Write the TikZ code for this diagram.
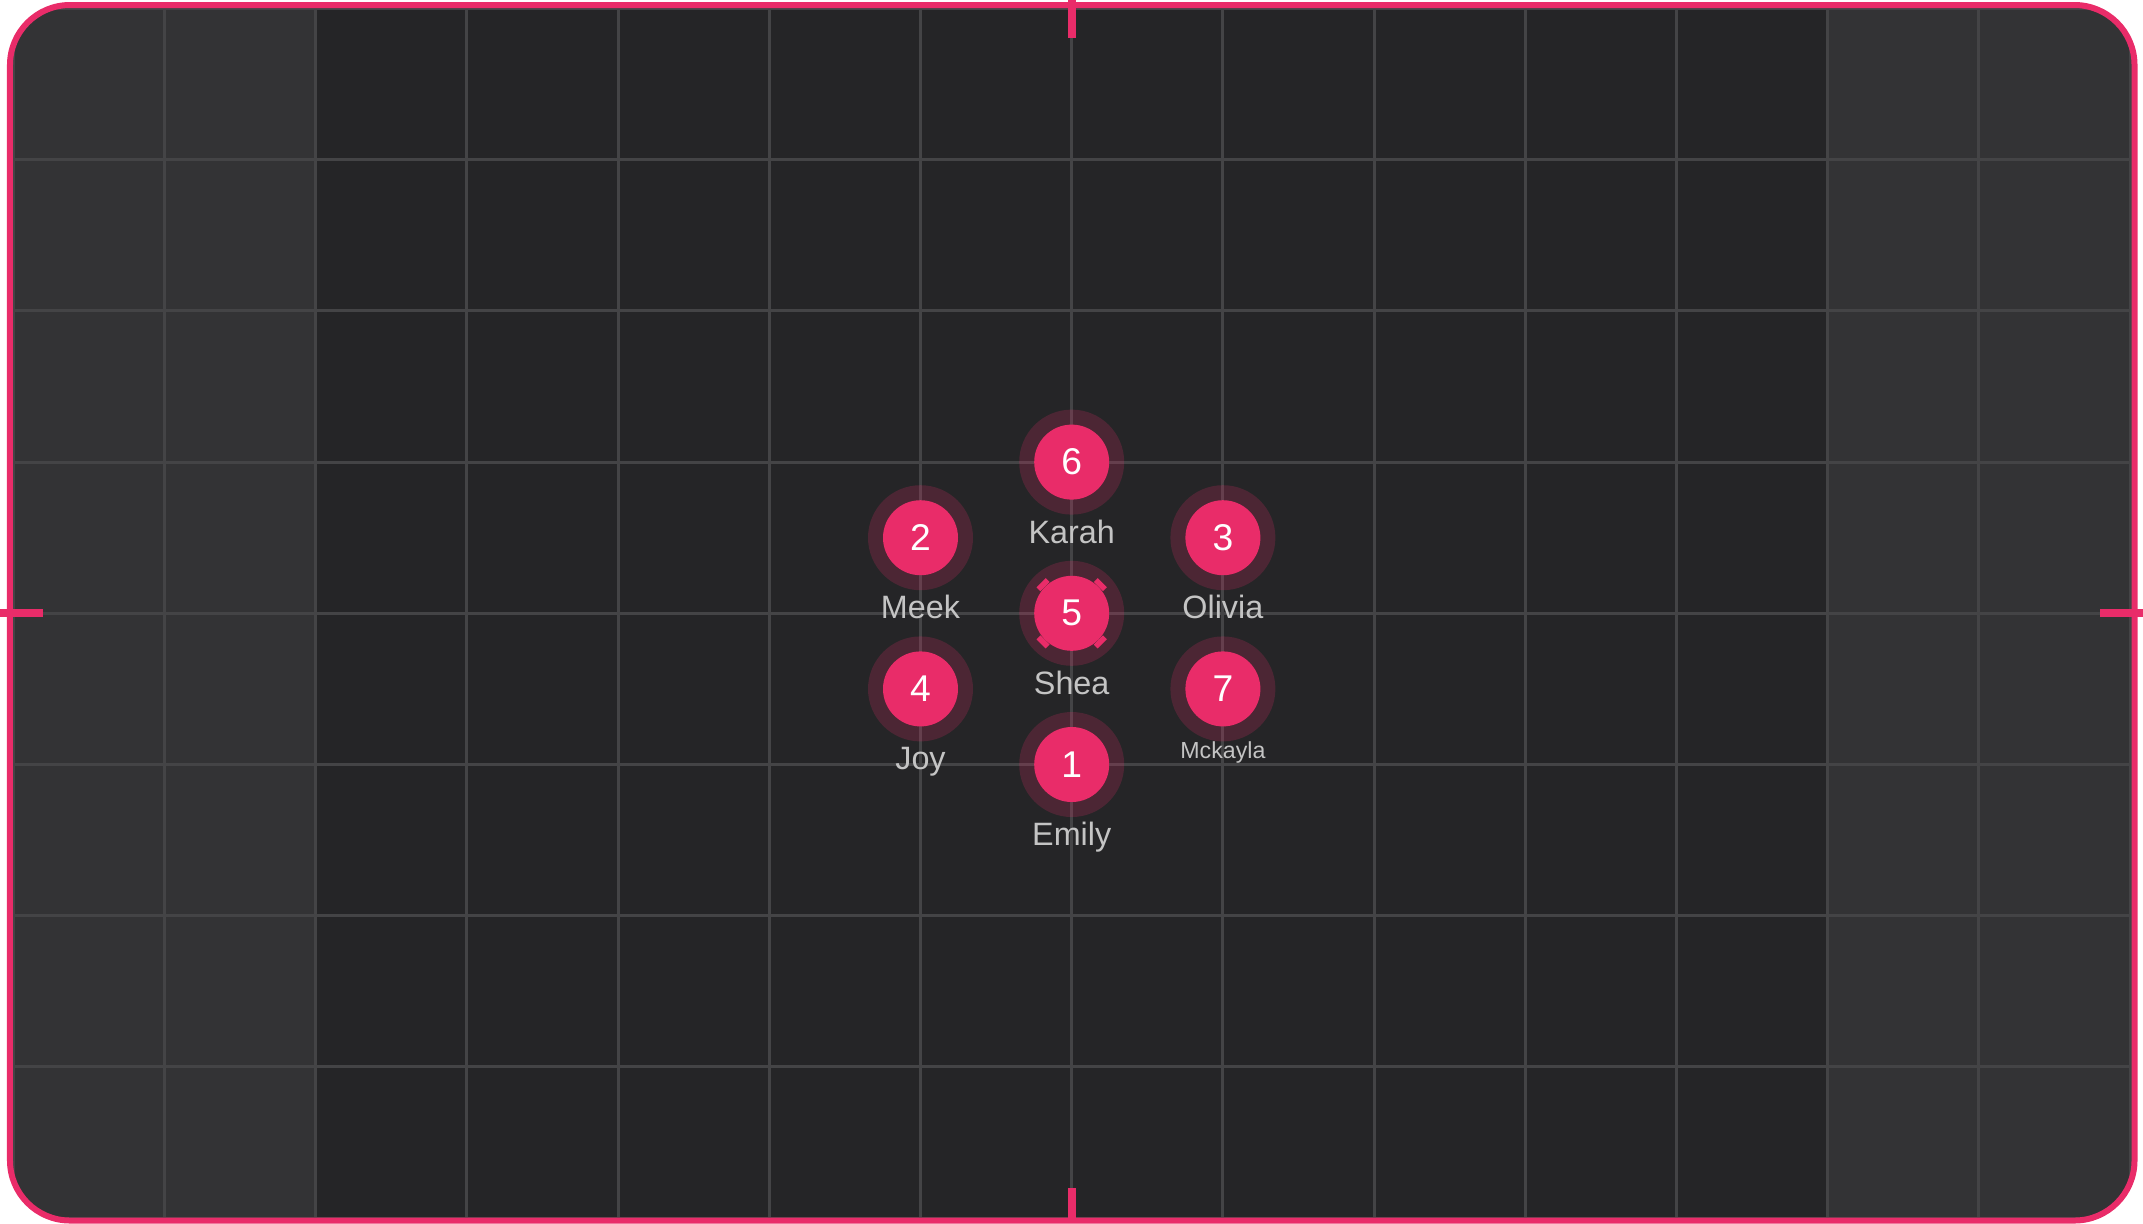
\documentclass[tikz,border=0pt]{standalone}
\usepackage{fontspec}
\setmainfont{Liberation Sans}
\usetikzlibrary{positioning}

\definecolor{accent}{HTML}{E92C69}
\definecolor{boardlight}{HTML}{333335}
\definecolor{boarddark}{HTML}{252527}
\definecolor{gridgray}{HTML}{444446}
\definecolor{namegray}{HTML}{C4C4C4}

\pgfdeclarelayer{board}
\pgfdeclarelayer{halo}
\pgfsetlayers{board,halo,main}

\begin{document}
\begin{tikzpicture}[on grid,node distance=1.512cm,
    dot/.style={circle,fill=accent,text=white,minimum size=0.75cm,inner sep=0pt,font=\fontsize{10.6}{12}\selectfont},
    lbl/.style={text=namegray,inner sep=0pt,anchor=base,font=\fontsize{9.2}{11}\selectfont},
    halo/.style={fill=accent,fill opacity=0.2},
    edgetick/.style={accent,line width=0.08cm},
    gridline/.style={gridgray,line width=0.03cm}]
  % board with grid and frame
  \begin{pgfonlayer}{board}
    \useasboundingbox (-10.717,-6.097) rectangle (10.713,6.133);
    \begin{scope}
      \clip[rounded corners=0.6cm] (-10.617,-6.072) rectangle (10.628,6.083);
      \fill[boardlight] (-10.8,-6.2) rectangle (10.8,6.2);
      \fill[boarddark] (-7.56,-6.2) rectangle (7.56,6.2);
      \draw[gridline,step=1.512cm] (-10.8,-6.2) grid (10.8,6.2);
    \end{scope}
    \draw[accent,line width=0.06cm,rounded corners=0.6cm] (-10.617,-6.072) rectangle (10.628,6.083);
    \draw[edgetick] (-10.717,0) -- (-10.287,0);
    \draw[edgetick] (10.713,0) -- (10.283,0);
    \draw[edgetick] (0,6.133) -- (0,5.753);
    \draw[edgetick] (0,-6.097) -- (0,-5.747);
  \end{pgfonlayer}

  \node[dot] (n5) at (0,0) {5};
  \node[dot,above=of n5] (n6) {6};
  \node[dot,below=of n5] (n1) {1};
  \node[dot,above left=0.756cm and 1.512cm of n5] (n2) {2};
  \node[dot,above right=0.756cm and 1.512cm of n5] (n3) {3};
  \node[dot,below left=0.756cm and 1.512cm of n5] (n4) {4};
  \node[dot,below right=0.756cm and 1.512cm of n5] (n7) {7};

  \node[below=0.81cm of n6,lbl] (l6) {Karah};
  \node[below=0.81cm of n2,lbl] (l2) {Meek};
  \node[below=0.81cm of n3,lbl] (l3) {Olivia};
  \node[below=0.81cm of n5,lbl] (l5) {Shea};
  \node[below=0.81cm of n4,lbl] (l4) {Joy};
  \node[below=0.70cm of n7,lbl,font=\fontsize{6.6}{8}\selectfont] (l7) {Mckayla};
  \node[below=0.81cm of n1,lbl] (l1) {Emily};

  \begin{pgfonlayer}{halo}
    \foreach \n in {1,...,7}
      \fill[halo] (n\n) circle (0.525cm);
  \end{pgfonlayer}

  % corner marks on the centre dot
  \begin{scope}[shift={(n5)}]
    \foreach \a in {45,135,225,315}
      \draw[accent,line width=0.055cm,rotate=\a] (0.405,-0.065) -- (0.405,0.065);
  \end{scope}
\end{tikzpicture}
\end{document}
